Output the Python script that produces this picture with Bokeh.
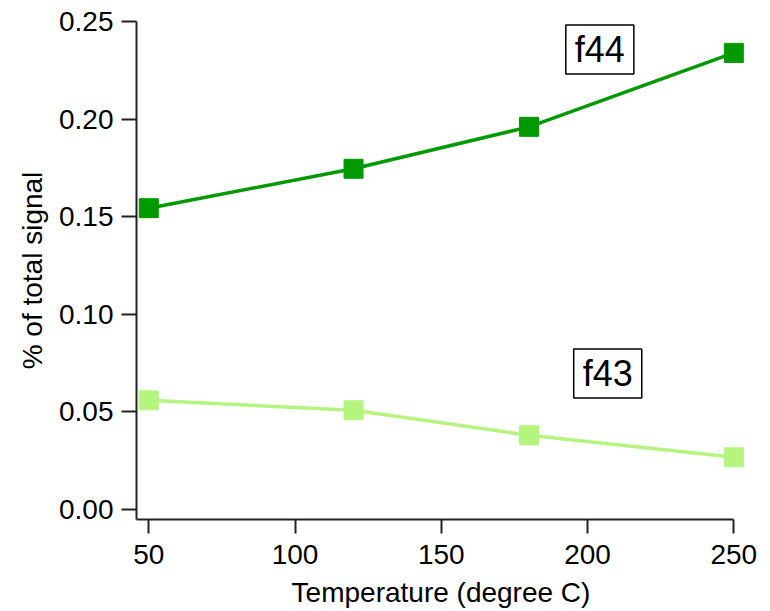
from bokeh.plotting import figure
from bokeh.models import Range1d, Label, FixedTicker, CustomJSTickFormatter
from bokeh.embed import file_html
from bokeh.resources import INLINE

temperature = [50, 120, 180, 250]
f44 = [0.1543, 0.1745, 0.1960, 0.2339]
f43 = [0.0558, 0.0507, 0.0379, 0.0266]
x_ticks = [50, 100, 150, 200, 250]
y_ticks = [0.00, 0.05, 0.10, 0.15, 0.20, 0.25]

DARK = "#009a00"
LIGHT = "#b5f57f"
FONT = "Liberation Sans"

p = figure(width=762, height=611, output_backend="svg", toolbar_location=None,
           x_range=Range1d(45.8, 254), y_range=Range1d(-0.0053, 0.25),
           min_border_left=136, min_border_right=17, min_border_top=21, min_border_bottom=92)
p.outline_line_color = None
p.xgrid.visible = False
p.ygrid.visible = False
p.background_fill_color = "white"

p.line(temperature, f44, line_color=DARK, line_width=3.5)
p.scatter(temperature, f44, marker="square", size=19, fill_color=DARK, line_color=DARK)
p.line(temperature, f43, line_color=LIGHT, line_width=3.5)
p.scatter(temperature, f43, marker="square", size=19, fill_color=LIGHT, line_color=LIGHT)

for ax in (p.xaxis[0], p.yaxis[0]):
    ax.axis_line_color = "#222222"
    ax.axis_line_width = 2
    ax.major_tick_line_color = "#222222"
    ax.major_tick_line_width = 2
    ax.minor_tick_line_color = None
    ax.major_tick_in = 0
    ax.major_label_text_font = FONT
    ax.major_label_text_font_size = "28px"
    ax.major_label_text_color = "black"
    ax.axis_label_text_font = FONT
    ax.axis_label_text_font_size = "28px"
    ax.axis_label_text_font_style = "normal"
    ax.axis_label_text_color = "black"

xa = p.xaxis[0]
xa.ticker = FixedTicker(ticks=x_ticks)
xa.bounds = (45.8, 250)
xa.major_tick_out = 14
xa.major_label_standoff = 11
xa.axis_label = "Temperature (degree C)"
xa.axis_label_standoff = 10

ya = p.yaxis[0]
ya.ticker = FixedTicker(ticks=y_ticks)
ya.formatter = CustomJSTickFormatter(code="return tick.toFixed(2);")
ya.major_tick_out = 15
ya.major_label_standoff = 8
ya.axis_label = "% of total signal"
ya.axis_label_standoff = 8

for txt, x, y in (("f44", 204.2, 0.2357), ("f43", 206.9, 0.0696)):
    p.add_layout(Label(x=x, y=y, text=txt, text_align="center", text_baseline="middle",
                       text_font=FONT, text_font_size="36px", text_color="black",
                       border_line_color="black", border_line_width=1.5,
                       background_fill_color="white", padding=(9, 4)))

open("out.html", "w").write(file_html(p, INLINE))
